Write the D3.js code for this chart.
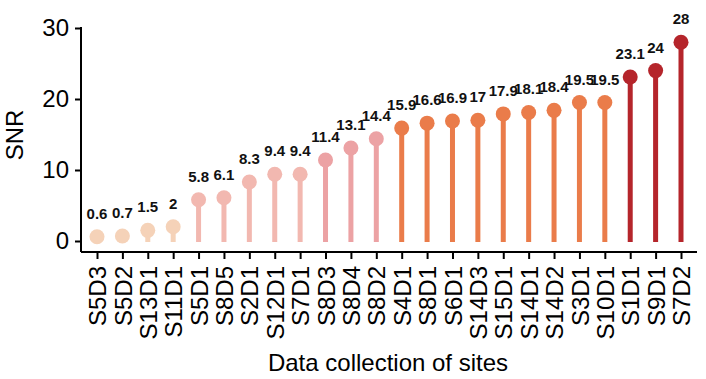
<!DOCTYPE html>
<meta charset="utf-8">
<style>
  body { margin: 0; background: #fff; font-family: "Liberation Sans", Arial, sans-serif; }
  .axis path, .axis line { stroke: #000; stroke-width: 2; }
  .axis text { fill: #000; font-family: "Liberation Sans", Arial, sans-serif; }
</style>
<body></body>
<script src="https://cdn.jsdelivr.net/npm/d3@7"></script>
<script>

var sites = ["S5D3","S5D2","S13D1","S11D1","S5D1","S8D5","S2D1","S12D1","S7D1","S8D3","S8D4","S8D2",
             "S4D1","S8D1","S6D1","S14D3","S15D1","S14D1","S14D2","S3D1","S10D1","S1D1","S9D1","S7D2"];
var snr = [0.6,0.7,1.5,2,5.8,6.1,8.3,9.4,9.4,11.4,13.1,14.4,
           15.9,16.6,16.9,17,17.9,18.1,18.4,19.5,19.5,23.1,24,28];
var group = [0,0,0,0,1,1,1,1,1,2,2,2,3,3,3,3,3,3,3,3,3,4,4,4];
var groupColors = ["#f5d2b8","#f2b8b0","#eca2a4","#ea7c4a","#b5252b"];
var yTicks = [0,10,20,30];

var W = 706, H = 379;
var svg = d3.select("body").append("svg")
    .attr("width", W)
    .attr("height", H);

var x = d3.scalePoint()
    .domain(sites)
    .range([97, 681]);

var y = d3.scaleLinear()
    .domain([0,30])
    .range([241,28]);

var data = sites.map(function(s, i) { return {site: s, v: snr[i], g: group[i]}; });

// y axis
var yAxis = svg.append("g")
    .attr("class", "axis")
    .attr("transform", "translate(81,0)")
    .call(d3.axisLeft(y).tickValues(yTicks).tickSize(6).tickPadding(6).tickSizeOuter(0));
yAxis.select(".domain").attr("d", "M0,27V252");
yAxis.selectAll("text").style("font-size", "24px");

// x axis
var xAxis = svg.append("g")
    .attr("class", "axis")
    .attr("transform", "translate(0,252)")
    .call(d3.axisBottom(x).tickSize(7).tickSizeOuter(0));
xAxis.select(".domain").attr("d", "M81,0H697");
xAxis.selectAll("text")
    .style("font-size", "24px")
    .attr("text-anchor", "end")
    .attr("transform", "rotate(-90)")
    .attr("x", -14)
    .attr("y", 0)
    .attr("dy", "0.36em");

// stems
svg.selectAll("rect.stem")
    .data(data)
    .enter().append("rect")
    .attr("class", "stem")
    .attr("x", function(d) { return x(d.site) - 2.5; })
    .attr("width", 5)
    .attr("y", function(d) { return y(d.v); })
    .attr("height", function(d) { return y(0) - y(d.v) + 1; })
    .attr("fill", function(d) { return groupColors[d.g]; });

// dots
svg.selectAll("circle")
    .data(data)
    .enter().append("circle")
    .attr("cx", function(d) { return x(d.site); })
    .attr("cy", function(d) { return y(d.v); })
    .attr("r", 7.5)
    .attr("fill", function(d) { return groupColors[d.g]; });

// value labels
svg.selectAll("text.val")
    .data(data)
    .enter().append("text")
    .attr("class", "val")
    .attr("x", function(d) { return x(d.site); })
    .attr("y", function(d) { return y(d.v) - 18; })
    .attr("text-anchor", "middle")
    .style("font-size", "15px")
    .style("font-weight", "bold")
    .style("fill", "#111")
    .text(function(d) { return d.v; });

// axis titles
svg.append("text")
    .attr("transform", "translate(23,135) rotate(-90)")
    .attr("text-anchor", "middle")
    .style("font-size", "24px")
    .text("SNR");

svg.append("text")
    .attr("x", 388)
    .attr("y", 371)
    .attr("text-anchor", "middle")
    .style("font-size", "24px")
    .text("Data collection of sites");

</script>
